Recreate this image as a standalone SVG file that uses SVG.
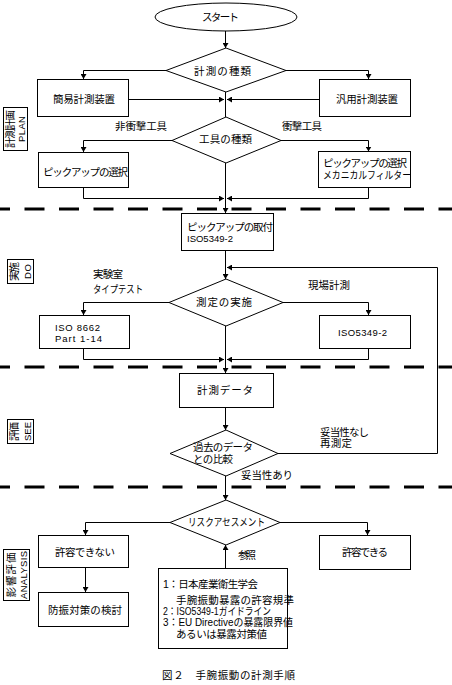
<svg xmlns="http://www.w3.org/2000/svg" width="452" height="685" viewBox="0 0 452 685">
<style>
  .s { fill: #fff; stroke: #000; stroke-width: 1; }
  .c { fill: none; stroke: #000; stroke-width: 1; }
  .d { fill: none; stroke: #000; stroke-width: 3; stroke-dasharray: 20 14.5; stroke-dashoffset: 10; }
  .t { font-family: "Liberation Sans", "Noto Sans CJK JP", sans-serif; font-size: 10.5px; fill: #000; dominant-baseline: central; }
  .e { font-family: "Liberation Sans", "Noto Sans", sans-serif; font-size: 9.5px; fill: #000; dominant-baseline: central; }
</style>
<defs>
  <marker id="a" markerUnits="userSpaceOnUse" markerWidth="6" markerHeight="6" refX="5" refY="3" orient="auto">
    <path d="M0,0 L5,3 L0,6 Z" fill="#000"/>
  </marker>
</defs>
<rect width="452" height="685" fill="#fff"/>

<g id="phase-lines">
  <line class="d" x1="0" y1="209" x2="452" y2="209"/>
  <line class="d" x1="0" y1="367" x2="452" y2="367"/>
  <line class="d" x1="0" y1="487" x2="452" y2="487"/>
</g>

<g id="connectors">
  <line class="c" x1="225.5" y1="31" x2="225.5" y2="48" marker-end="url(#a)"/>
  <polyline class="c" points="166,70.5 83.5,70.5 83.5,79" marker-end="url(#a)"/>
  <polyline class="c" points="286,70.5 368.5,70.5 368.5,79" marker-end="url(#a)"/>
  <line class="c" x1="128.5" y1="99.5" x2="224" y2="99.5" marker-end="url(#a)"/>
  <line class="c" x1="319.5" y1="99.5" x2="227" y2="99.5" marker-end="url(#a)"/>
  <line class="c" x1="225.5" y1="92" x2="225.5" y2="117"/>
  <polyline class="c" points="172,140.5 83.5,140.5 83.5,152" marker-end="url(#a)"/>
  <polyline class="c" points="281,140.5 368.5,140.5 368.5,151.5" marker-end="url(#a)"/>
  <polyline class="c" points="83.5,187.5 83.5,198.5 224,198.5" marker-end="url(#a)"/>
  <polyline class="c" points="368.5,187.5 368.5,198.5 227,198.5" marker-end="url(#a)"/>
  <line class="c" x1="225.5" y1="163" x2="225.5" y2="213" marker-end="url(#a)"/>
  <line class="c" x1="225.5" y1="250.5" x2="225.5" y2="279" marker-end="url(#a)"/>
  <polyline class="c" points="278,453.5 437.5,453.5 437.5,267.5 227,267.5" marker-end="url(#a)"/>
  <polyline class="c" points="169,302.5 83.5,302.5 83.5,315" marker-end="url(#a)"/>
  <polyline class="c" points="283,302.5 368.5,302.5 368.5,315" marker-end="url(#a)"/>
  <polyline class="c" points="83.5,348.5 83.5,359.5 224,359.5" marker-end="url(#a)"/>
  <polyline class="c" points="368.5,348.5 368.5,359.5 227,359.5" marker-end="url(#a)"/>
  <line class="c" x1="225.5" y1="326" x2="225.5" y2="373" marker-end="url(#a)"/>
  <line class="c" x1="225.5" y1="407.5" x2="225.5" y2="430" marker-end="url(#a)"/>
  <line class="c" x1="225.5" y1="476" x2="225.5" y2="500" marker-end="url(#a)"/>
  <polyline class="c" points="170,522.5 85.5,522.5 85.5,535" marker-end="url(#a)"/>
  <polyline class="c" points="280,522.5 367.5,522.5 367.5,535" marker-end="url(#a)"/>
  <line class="c" x1="85.5" y1="567.5" x2="85.5" y2="592" marker-end="url(#a)"/>
  <line class="c" x1="225.5" y1="568.5" x2="225.5" y2="545" marker-end="url(#a)"/>
  <text class="t" x="115" y="126" textLength="52">非衝撃工具</text>
  <text class="t" x="282" y="126" textLength="40">衝撃工具</text>
  <text class="t" x="93" y="274" textLength="30">実験室</text>
  <text class="t" x="93" y="288.5" textLength="50" lengthAdjust="spacingAndGlyphs">タイプテスト</text>
  <text class="t" x="308" y="285" textLength="42">現場計測</text>
  <text class="t" x="320" y="431.5" textLength="49">妥当性なし</text>
  <text class="t" x="320" y="443" textLength="32">再測定</text>
  <text class="t" x="241" y="475" textLength="52">妥当性あり</text>
  <text class="t" x="238" y="555" textLength="18">参照</text>
</g>

<g id="start">
  <ellipse class="s" cx="226" cy="17" rx="71" ry="14"/>
  <text class="t" x="202" y="17" textLength="37">スタート</text>
</g>
<g id="measure-type">
  <polygon class="s" points="226,48 286,70.5 226,92 166,70.5"/>
  <text class="t" x="194" y="71" textLength="57">計測の種類</text>
</g>
<g id="simple-device">
  <rect class="s" x="37.5" y="79.5" width="91" height="37"/>
  <text class="t" x="53" y="99" textLength="62">簡易計測装置</text>
</g>
<g id="general-device">
  <rect class="s" x="319.5" y="79.5" width="91" height="37"/>
  <text class="t" x="336" y="99" textLength="62">汎用計測装置</text>
</g>
<g id="tool-type">
  <polygon class="s" points="226,117 281,140.5 226,163 172,140.5"/>
  <text class="t" x="199" y="139" textLength="53">工具の種類</text>
</g>
<g id="pickup-select">
  <rect class="s" x="38.5" y="152.5" width="90" height="35"/>
  <text class="t" x="43" y="172" textLength="85">ピックアップの選択</text>
</g>
<g id="pickup-filter">
  <rect class="s" x="318.5" y="151.5" width="92" height="36"/>
  <text class="t" x="323" y="163" textLength="84">ピックアップの選択</text>
  <text class="t" x="323" y="175" textLength="88" lengthAdjust="spacingAndGlyphs">メカニカルフィルター</text>
</g>
<g id="pickup-mount">
  <rect class="s" x="181.5" y="213.5" width="92" height="37"/>
  <text class="t" x="187" y="227" textLength="86">ピックアップの取付</text>
  <text class="e" x="187" y="238.5" textLength="46">ISO5349-2</text>
</g>
<g id="measurement">
  <polygon class="s" points="226,279 283,302.5 226,326 169,302.5"/>
  <text class="t" x="196" y="302" textLength="56">測定の実施</text>
</g>
<g id="iso8662">
  <rect class="s" x="39.5" y="315.5" width="90" height="33"/>
  <text class="e" x="55" y="327" textLength="45">ISO 8662</text>
  <text class="e" x="55" y="338" textLength="47">Part 1-14</text>
</g>
<g id="iso5349-2">
  <rect class="s" x="319.5" y="315.5" width="91" height="33"/>
  <text class="e" x="338" y="332" textLength="49">ISO5349-2</text>
</g>
<g id="data">
  <rect class="s" x="179.5" y="373.5" width="94" height="34"/>
  <text class="t" x="197" y="390" textLength="56">計測データ</text>
</g>
<g id="compare">
  <polygon class="s" points="226,430 278,453.5 226,476 170,453.5"/>
  <text class="t" x="193" y="447" textLength="60">過去のデータ</text>
  <text class="t" x="193" y="458.5" textLength="40">との比較</text>
</g>
<g id="risk">
  <polygon class="s" points="226,500 280,522.5 226,545 170,522.5"/>
  <text class="t" x="188" y="522" textLength="77" lengthAdjust="spacingAndGlyphs">リスクアセスメント</text>
</g>
<g id="not-allowed">
  <rect class="s" x="38.5" y="535.5" width="90" height="32"/>
  <text class="t" x="55" y="552" textLength="60">許容できない</text>
</g>
<g id="countermeasure">
  <rect class="s" x="38.5" y="592.5" width="90" height="34"/>
  <text class="t" x="48" y="610" textLength="74">防振対策の検討</text>
</g>
<g id="allowed">
  <rect class="s" x="319.5" y="535.5" width="91" height="34"/>
  <text class="t" x="342" y="552" textLength="46">許容できる</text>
</g>
<g id="reference">
  <rect class="s" x="158.5" y="568.5" width="129" height="80"/>
  <text class="t" x="163" y="584" textLength="95">1：日本産業衛生学会</text>
  <text class="t" x="176" y="600" textLength="118">手腕振動暴露の許容規準</text>
  <text class="t" x="163" y="611" textLength="108" lengthAdjust="spacingAndGlyphs">2：ISO5349-1ガイドライン</text>
  <text class="t" x="163" y="622" textLength="130" lengthAdjust="spacingAndGlyphs">3：EU Directiveの暴露限界値</text>
  <text class="t" x="176" y="634" textLength="91">あるいは暴露対策値</text>
</g>

<g id="label-plan">
  <rect class="s" x="3.5" y="107.5" width="24" height="43"/>
  <text class="t" transform="translate(10,129) rotate(-90)" text-anchor="middle" textLength="38">計測計画</text>
  <text class="e" transform="translate(21.5,129) rotate(-90)" text-anchor="middle" textLength="26">PLAN</text>
</g>
<g id="label-do">
  <rect class="s" x="7.5" y="259.5" width="26" height="24"/>
  <text class="t" transform="translate(14,271.5) rotate(-90)" text-anchor="middle" textLength="19">実施</text>
  <text class="e" transform="translate(27.5,271.5) rotate(-90)" text-anchor="middle" textLength="15">DO</text>
</g>
<g id="label-see">
  <rect class="s" x="7.5" y="419.5" width="26" height="24"/>
  <text class="t" transform="translate(14,431.5) rotate(-90)" text-anchor="middle" textLength="19">評価</text>
  <text class="e" transform="translate(27.5,431.5) rotate(-90)" text-anchor="middle" textLength="19">SEE</text>
</g>
<g id="label-analysis">
  <rect class="s" x="3.5" y="549.5" width="26" height="51"/>
  <text class="t" transform="translate(11,575) rotate(-90)" text-anchor="middle" textLength="45">影響評価</text>
  <text class="e" transform="translate(23,575) rotate(-90)" text-anchor="middle" textLength="48">ANALYSIS</text>
</g>

<text class="t" x="162" y="675" textLength="133">図２　手腕振動の計測手順</text>
</svg>
